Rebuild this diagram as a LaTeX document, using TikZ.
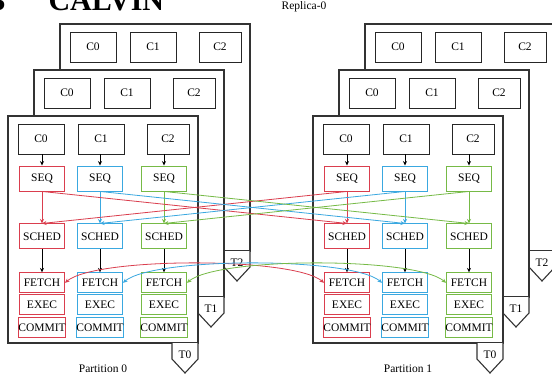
\documentclass[tikz,border=0pt]{standalone}
\usepackage{fontspec}
\setmainfont{Liberation Serif}
\usetikzlibrary{positioning,arrows.meta}
\definecolor{seqred}{RGB}{218,62,78}
\definecolor{seqblue}{RGB}{58,168,224}
\definecolor{seqgreen}{RGB}{118,186,70}

\begin{document}
\begin{tikzpicture}[x=1pt,y=-1pt,>={Stealth[length=4.5pt,width=4pt]},
every node/.style={font=\fontsize{11.5}{13}\selectfont},
frame/.style={draw=black!80,line width=1.1pt,fill=white},
client/.style={draw=black!85,line width=0.9pt,minimum height=30pt,inner sep=0pt},
stage/.style={draw=#1,line width=0.9pt,minimum width=45pt,minimum height=25pt,inner sep=0pt},
substage/.style={stage=#1,minimum height=20pt},
link/.style={line width=0.8pt,->}]

\useasboundingbox (0,0) rectangle (552,376);

% title and replica label
\node[anchor=base east,font=\fontsize{30}{32}\selectfont\bfseries] (num) at (9,10) {3};
\node[anchor=base west,font=\fontsize{30}{32}\selectfont\bfseries] (title) at (45,10) {CALVIN};
\node (replica) at (304,7) {Replica-0};

% the threads T2, T1, T0 of each partition, back to front
\foreach \p/\px in {0/0,1/305}{
  \foreach \r/\dx/\dy in {2/52/-92,1/26/-46,0/0/0}{
    \draw[frame] (8+\px+\dx,116+\dy) rectangle ++(190,227);
    \draw[frame] (172+\px+\dx,343+\dy) -- ++(0,16) -- ++(13,14) -- ++(13,-14) -- ++(0,-16);
    \node (t\p\r) at (185+\px+\dx,355+\dy) {T\r};
    \foreach \k/\cx/\cw in {0/33/46pt,1/93/46pt,2/160/42pt}
      \node[client,minimum width=\cw] (c\p\r\k) at (8+\px+\dx+\cx,139+\dy) {C\k};
  }
  \node (part\p) at (103+\px,369) {Partition \p};
}

% pipeline of the front thread
\foreach \p/\px in {0/0,1/305}
\foreach \k/\col/\sx in {0/seqred/42,1/seqblue/100,2/seqgreen/164}{
  \node[stage=\col] (seq\p\k) at (\sx+\px,178.5) {SEQ};
  \node[stage=\col] (sched\p\k) [below=32pt of seq\p\k] {SCHED};
  \node[substage=\col] (fetch\p\k) [below=23pt of sched\p\k] {FETCH};
  \node[substage=\col] (exec\p\k) [below=1pt of fetch\p\k] {EXEC};
  \node[substage=\col] (commit\p\k) [below=2pt of exec\p\k] {COMMIT};
  \draw[link] (c\p0\k.south -| seq\p\k.north) -- (seq\p\k.north);
  \draw[link,\col] (seq\p\k) -- (sched\p\k);
  \draw[link] (sched\p\k) -- (fetch\p\k);
}

% between partitions
\foreach \k/\col in {0/seqred,1/seqblue,2/seqgreen}{
  \draw[link,\col] (seq0\k.south) -- (sched1\k.north);
  \draw[link,\col] (seq1\k.south) -- (sched0\k.north);
  \draw[link,\col,<->] (fetch0\k.east) to[out=40,in=140,looseness=0.4] (fetch1\k.west);
}
\end{tikzpicture}
\end{document}
